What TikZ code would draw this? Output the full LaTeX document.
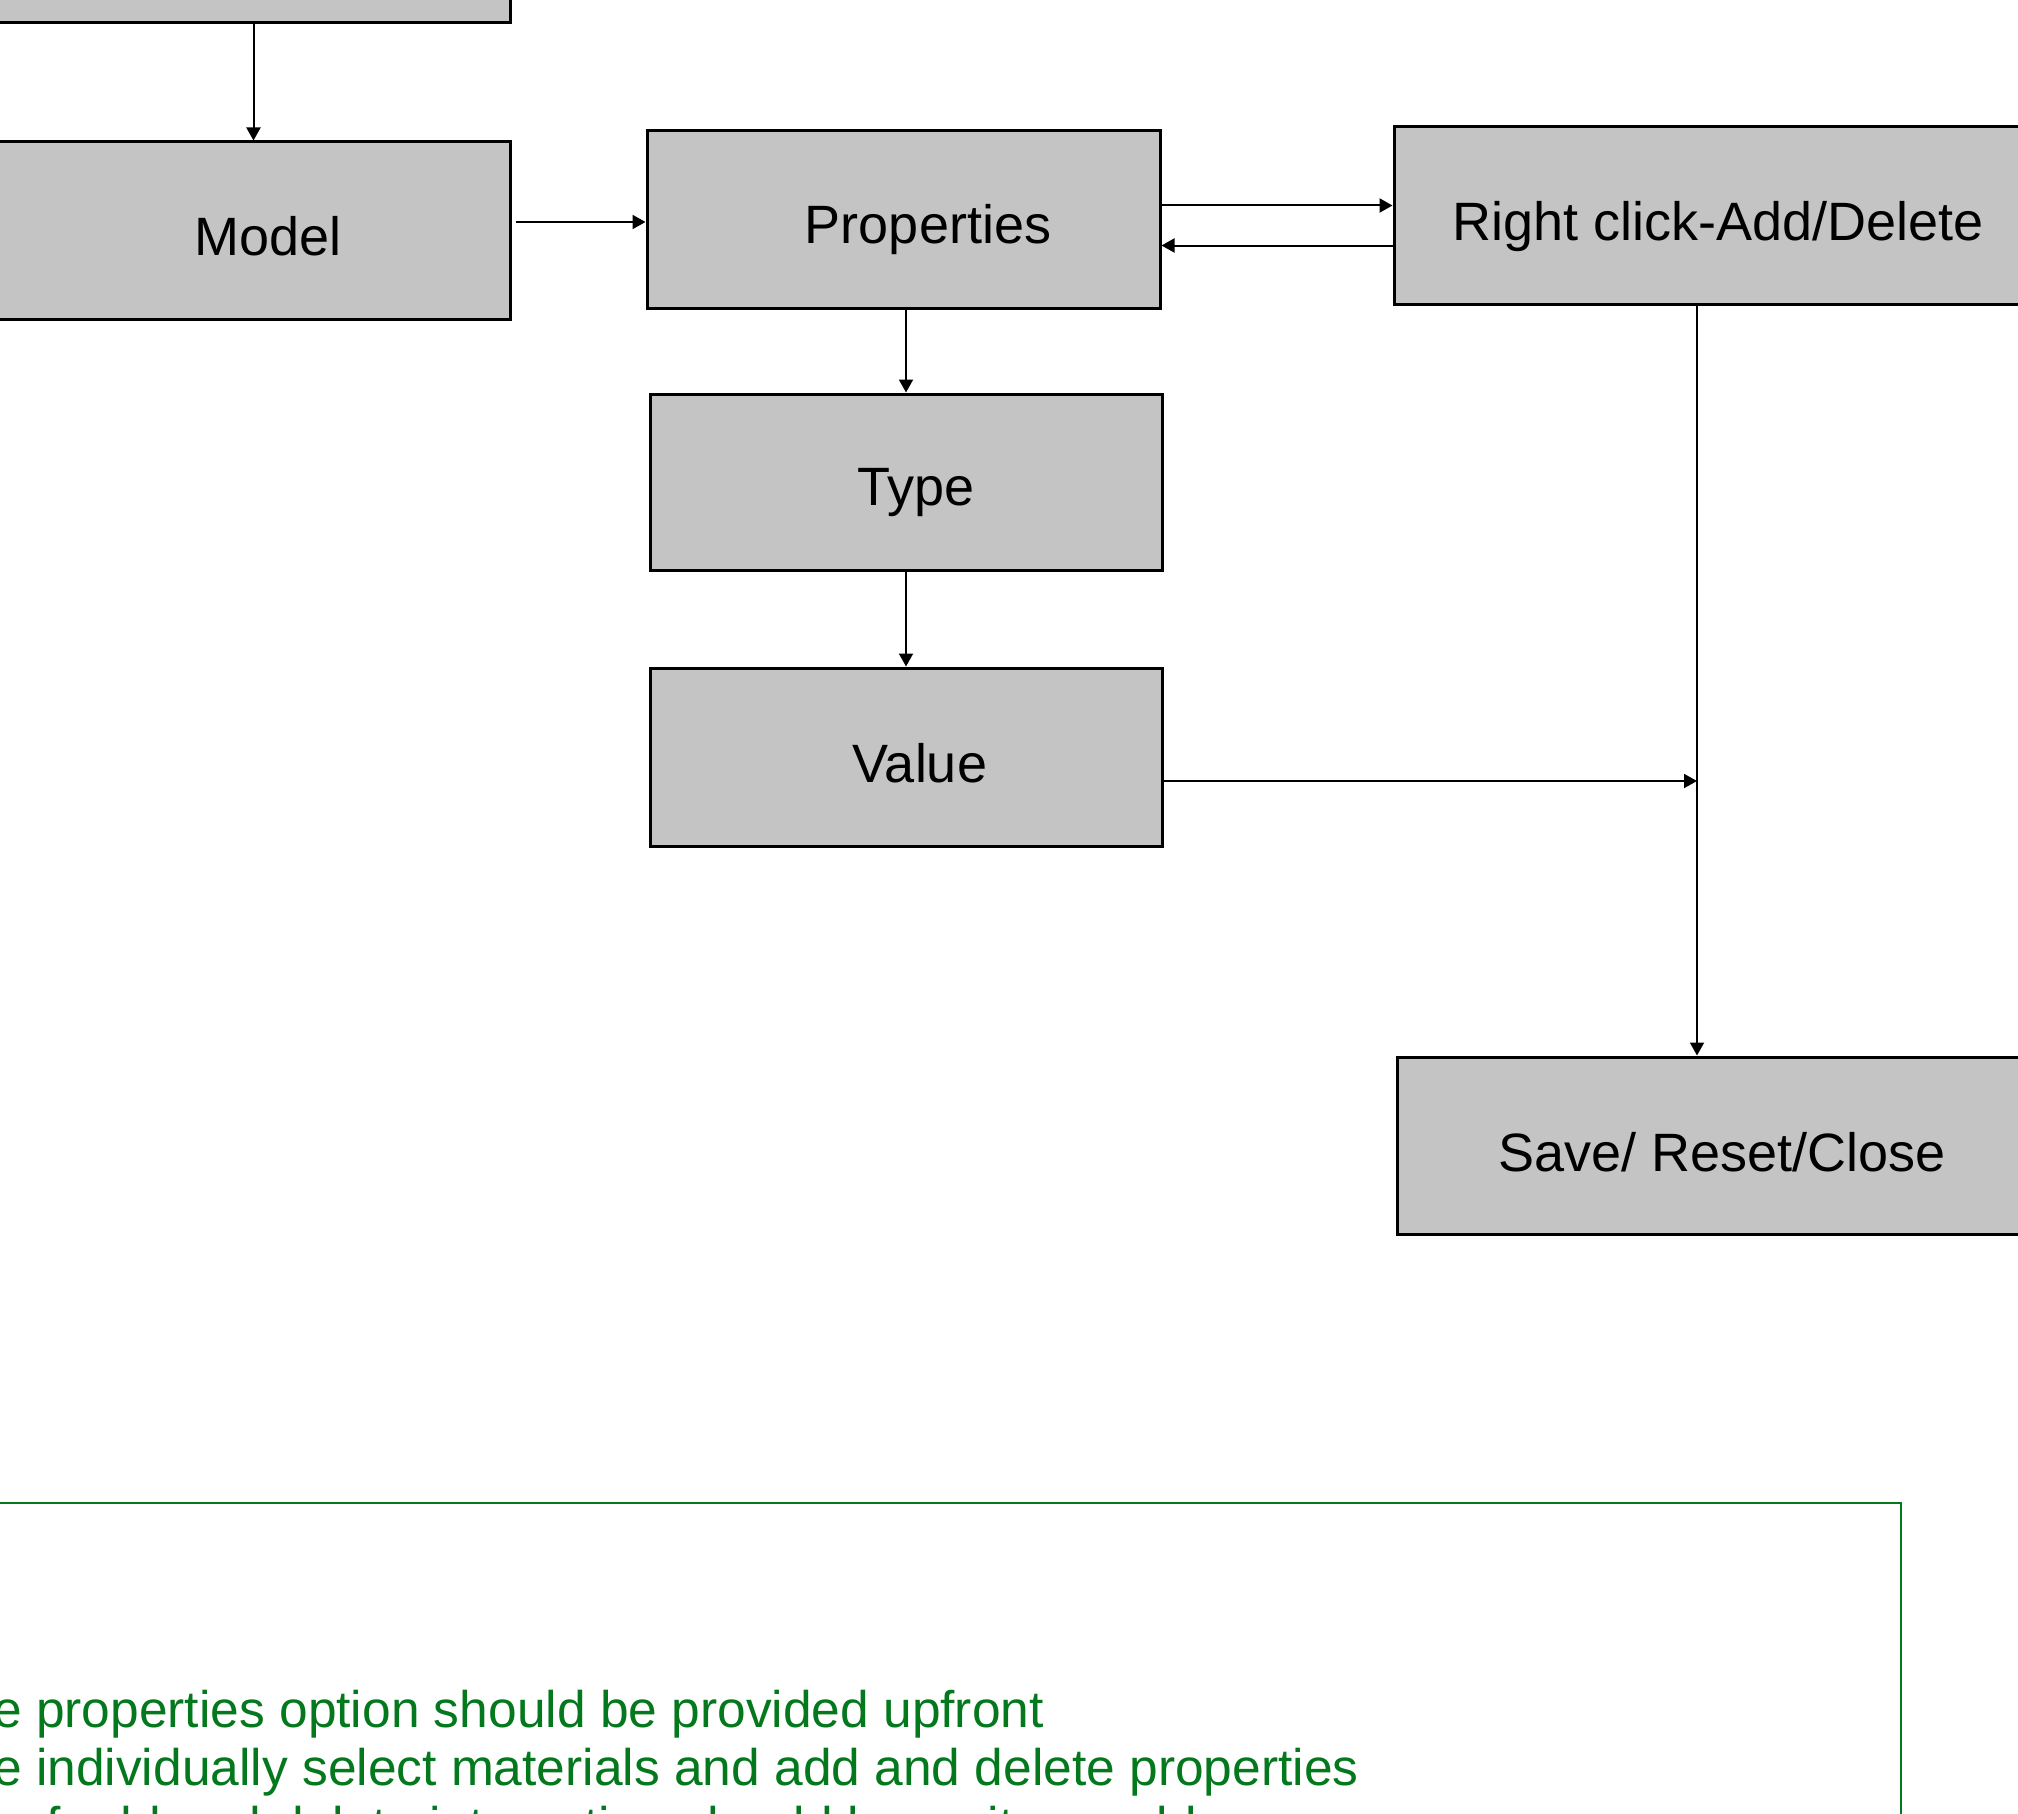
\documentclass[tikz,border=0pt]{standalone}
\usepackage{fontspec}
\setmainfont{Liberation Sans}
\usetikzlibrary{arrows.meta}
\definecolor{boxgray}{HTML}{C4C4C4}
\definecolor{notegreen}{RGB}{4,120,28}
\begin{document}
\begin{tikzpicture}[x=1pt,y=-1pt,
  box/.style={draw=black, line width=3pt, fill=boxgray, rectangle, inner sep=0pt,
              minimum width=513pt, minimum height=177pt},
  lbl/.style={font=\fontsize{54}{60}\selectfont, anchor=base, inner sep=0pt},
  arr/.style={line width=2pt, -{Triangle[length=13pt,width=14pt]}},
  notebox/.style={draw=notegreen, line width=2.6pt, rectangle, inner sep=0pt},
  note/.style={font=\fontsize{51.5}{58}\selectfont, text=notegreen, anchor=base west, inner sep=0pt}]
\useasboundingbox (0,0) rectangle (2018,1814);
\clip (0,0) rectangle (2018,1814);
% boxes
\node[box] (top) at (253.5,-65.5) {};
\node[box] (model) at (253.5,230.5) {};
\node[box] (props) at (903.5,219.5) {};
\node[box, minimum width=512pt, minimum height=176pt] (type) at (906,482) {};
\node[box, minimum width=512pt, minimum height=178pt] (value) at (906,757) {};
\node[box, minimum width=670pt] (right) at (1729,215.5) {};
\node[box, minimum width=670pt] (save) at (1732,1145.5) {};
% labels
\node[lbl] (modelT) at ([shift={(14.5,24.5)}]model.center) {Model};
\node[lbl] (propsT) at ([shift={(24.5,24)}]props.center) {Properties};
\node[lbl] (typeT) at ([shift={(10,23.5)}]type.center) {Type};
\node[lbl] (valueT) at ([shift={(14,25)}]value.center) {Value};
\node[lbl] (rightT) at (1718,240.5) {Right click-Add/Delete};
\node[lbl] (saveT) at (1722,1171) {Save/ Reset/Close};
% connectors
\coordinate (vx) at (1697,0);
\draw[arr] (top.south) -- (model.north);
\draw[arr] ([shift={(4,-8.5)}]model.east) -- ([shift={(0,-8.5)}]model.east -| props.west);
\draw[arr] ([shift={(0,-14)}]props.east) -- ([shift={(0,-14)}]props.east -| right.west);
\draw[arr] ([shift={(0,26)}]props.east -| right.west) -- ([shift={(0,26)}]props.east);
\draw[arr] ([shift={(0,-3)}]props.south -| type.north) -- (type.north);
\draw[arr] (type.south) -- (value.north);
\draw[arr] (right.south -| vx) -- (save.north -| vx);
\draw[arr] ([shift={(0,24)}]value.east) -- ([shift={(0,24)}]value.east -| vx);
% note
\node[notebox, minimum width=1921pt, minimum height=447pt] (note) at (940.5,1726.5) {};
\node[note] (l1) at (-7,1727) {e properties option should be provided upfront};
\node[note] (l2) at (-7,1785) {e individually select materials and add and delete properties};
\node[note] (l3) at (3,1843) {e f add and delete interaction should be so it reusable};
\end{tikzpicture}
\end{document}
